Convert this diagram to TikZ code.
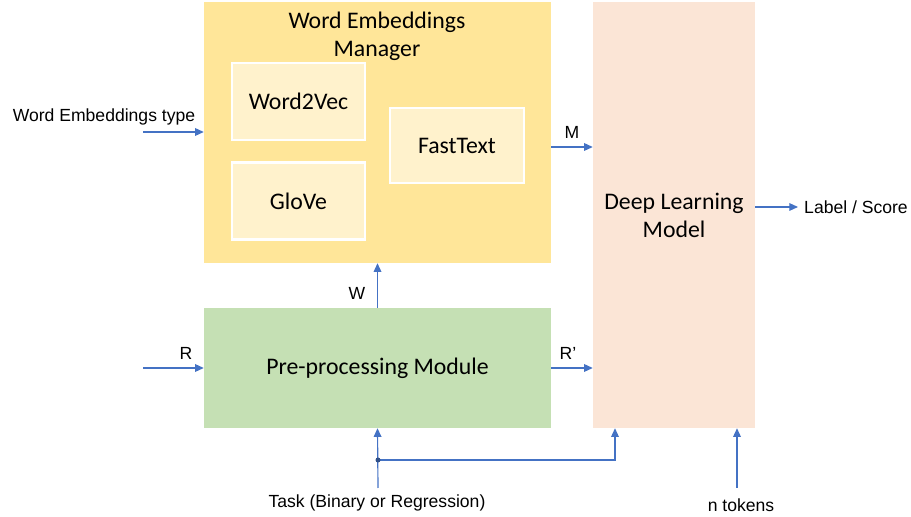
\documentclass[tikz,border=0pt]{standalone}
\usepackage{fontspec}
\setmainfont{Liberation Sans}
\newfontfamily\cali{Carlito}
\usetikzlibrary{arrows.meta}
\usetikzlibrary{positioning}

\definecolor{wemyellow}{HTML}{FFE699}
\definecolor{subyellow}{HTML}{FFF2CC}
\definecolor{prepgreen}{HTML}{C5E0B4}
\definecolor{dlmpeach}{HTML}{FBE5D6}
\definecolor{arrblue}{HTML}{4472C4}

\begin{document}
\begin{tikzpicture}[x=0.03cm,y=-0.03cm,
    block/.style={rectangle, inner sep=0pt, font=\cali\fontsize{20.3}{24}\selectfont, align=center},
    subblock/.style={block, fill=subyellow, draw=white, line width=2pt},
    lbl/.style={font=\fontsize{15}{17}\selectfont, inner sep=0pt},
    arr/.style={draw=arrblue, line width=1pt, -{Triangle[length=2.6mm,width=2.3mm]}}]
            \useasboundingbox (0,0) rectangle (911,517);
            \node[block, fill=wemyellow, minimum width=10.41cm, minimum height=7.83cm] (wem) at (377.5,132.5) {};
            \node[block] (wemtitle) at (377,36) {Word Embeddings\\Manager};
            \node[subblock, minimum width=4.0cm, minimum height=2.32cm] (wv) at (298.5,101.5) {Word2Vec};
            \node[subblock, minimum width=4.0cm, minimum height=2.3cm] (glove) at (298.5,201) {GloVe};
            \node[subblock, minimum width=4.03cm, minimum height=2.26cm] (fasttext) at (457,145.5) {FastText};
            \node[block, fill=prepgreen, minimum width=10.41cm, minimum height=3.6cm] (prep) at (377.5,368) {Pre-processing Module};
            \node[block, fill=dlmpeach, minimum width=4.86cm, minimum height=12.78cm] (dlm) at (674,215) {Deep Learning\\Model};

            \coordinate (wetype) at (143,132);
            \coordinate (rin) at (143,368);
            \coordinate (task) at (378,488);
            \coordinate (ntok) at (737,488);
            \coordinate (out) at (798,207);
            \coordinate (split) at (378,460);

            \node[lbl] (wetypelbl) at (104,117) {Word Embeddings type};
            \node[lbl] (mlbl) at (572,132) {M};
            \node[lbl] (wlbl) at (357,293) {W};
            \node[lbl] (rlbl) at (186,353) {R};
            \node[lbl] (rplbl) at (568,353) {R'};
            \node[lbl, anchor=west] (outlbl) at (804,207) {Label / Score};
            \node[lbl] (tasklbl) at (377,503) {Task (Binary or Regression)};
            \node[lbl] (ntoklbl) at (741,505) {n tokens};

            \draw[arr] (wetype) -- (wem.west |- wetype);
            \draw[arr] (wem.east |- 0,147) -- (dlm.west |- 0,147);
            \draw[arr] (prep.north) -- (wem.south);
            \draw[arr] (rin) -- (prep.west);
            \draw[arr] (prep.east) -- (dlm.west |- prep.east);
            \draw[arr] (dlm.east |- out) -- (out);
            \draw[arr] (task) -- (prep.south);
            \draw[arr] (split) -- (615,460) -- (dlm.south -| 615,0);
            \draw[arr] (ntok) -- (dlm.south -| ntok);
            \fill[arrblue!70!black] (split) circle (2.5);
        \end{tikzpicture}
\end{document}
